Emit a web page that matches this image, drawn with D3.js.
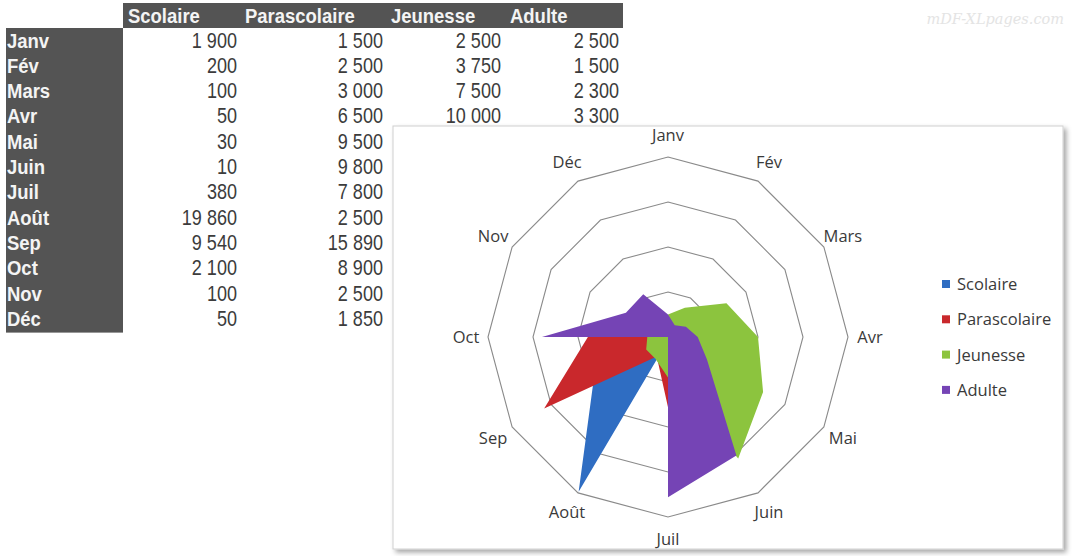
<!DOCTYPE html>
<html>
<head>
<meta charset="utf-8">
<script src="https://cdn.jsdelivr.net/npm/d3@7/dist/d3.min.js"></script>
<style>
    body { margin:0; background:#ffffff; }
    svg { display:block; }
    .head { font-family:"Liberation Sans", Arial, sans-serif; font-weight:bold; font-size:21px; fill:#f4f4f4; }
    .cell { font-family:"Liberation Sans", Arial, sans-serif; font-size:21.5px; fill:#3c3c3c; }
    .axisLabel { font-family:"Open Sans", sans-serif; font-size:16.5px; fill:#3a3a3a; }
    .legend { font-family:"Open Sans", sans-serif; font-size:16.5px; fill:#3a3a3a; }
</style>
</head>
<body>
<svg></svg>
<script>

var months = ["Janv","Fév","Mars","Avr","Mai","Juin","Juil","Août","Sep","Oct","Nov","Déc"];
var seriesNames = ["Scolaire","Parascolaire","Jeunesse","Adulte"];

var scolaire     = [1900, 200, 100, 50, 30, 10, 380, 19860, 9540, 2100, 100, 50];
var parascolaire = [1500, 2500, 3000, 6500, 9500, 9800, 7800, 2500, 15890, 8900, 2500, 1850];
//hidden behind the chart from Mai on: read from the radar
var jeunesse     = [2500, 3750, 7500, 10000, 12200, 15600, 4500, 2800, 2800, 2300, 1500, 2000];
var adulte       = [2500, 1500, 2300, 3300, 5000, 15200, 17800, 0, 0, 14000, 5400, 5500];

var ringValues = [5000, 10000, 15000, 20000];
var colors = ["#2f6dc2", "#c9282c", "#8cc43e", "#7544b5"];

var allSeries = [scolaire, parascolaire, jeunesse, adulte];

var fr = d3.formatLocale({decimal:",", thousands:" ", grouping:[3], currency:["","€"]});
var fmt = fr.format(",d");

//chart panel that lies over the table
var box = {x:393, y:126, width:670, height:423};

var drawTable = function(svg)
{
    var table = {left:6, colStart:123, right:623, top:3, rowH:25.3, firstRow:40};
    var colRight = [237, 383, 501, 619];
    var colLeft = [128, 245, 391, 510];
    var rowY = function(i) { return table.firstRow + table.rowH * i + 7.5; };

    var g = svg.append("g").classed("table", true);

    //header bar
    g.append("rect")
        .attr("x", table.colStart)
        .attr("y", table.top)
        .attr("width", table.right - table.colStart)
        .attr("height", 25)
        .attr("fill", "#545454");

    //row labels column
    g.append("rect")
        .attr("x", table.left)
        .attr("y", table.top + 25)
        .attr("width", table.colStart - table.left)
        .attr("height", table.rowH * months.length + 1)
        .attr("fill", "#545454");

    //narrow-looking text: squeeze horizontally
    g.selectAll(".headTxt")
        .data(seriesNames)
        .enter()
        .append("text")
        .classed("head", true)
        .attr("transform", function(d, i) { return "translate(" + colLeft[i] + "," + (table.top + 20) + ") scale(0.88,1)"; })
        .text(function(d) { return d; });

    g.selectAll(".rowTxt")
        .data(months)
        .enter()
        .append("text")
        .classed("head", true)
        .attr("transform", function(d, i) { return "translate(" + (table.left + 1) + "," + rowY(i) + ") scale(0.88,1)"; })
        .text(function(d) { return d; });

    allSeries.forEach(function(values, c)
    {
        //cells hidden behind the chart panel are not written
        var shown = values.map(function(v, i) { return {v:v, i:i}; })
            .filter(function(d) { return colRight[c] < box.x || rowY(d.i) - 12 < box.y; });

        g.selectAll(".col" + c)
            .data(shown)
            .enter()
            .append("text")
            .classed("cell", true)
            .attr("text-anchor", "end")
            .attr("transform", function(d) { return "translate(" + colRight[c] + "," + rowY(d.i) + ") scale(0.84,1)"; })
            .text(function(d) { return fmt(d.v); });
    });
}

var drawRadar = function(svg)
{
    var center = {x:668, y:337};
    var radius = 180;

    var defs = svg.append("defs");
    var shadow = defs.append("filter")
        .attr("id", "shadow")
        .attr("x", "-5%").attr("y", "-5%")
        .attr("width", "112%").attr("height", "115%");
    shadow.append("feDropShadow")
        .attr("dx", 3).attr("dy", 3)
        .attr("stdDeviation", 2.5)
        .attr("flood-color", "#000")
        .attr("flood-opacity", 0.35);

    svg.append("rect")
        .attr("x", box.x)
        .attr("y", box.y)
        .attr("width", box.width)
        .attr("height", box.height)
        .attr("fill", "#ffffff")
        .attr("stroke", "#d0d0d0")
        .attr("filter", "url(#shadow)");

    var rScale = d3.scaleLinear()
        .domain([0, 20000])
        .range([0, radius]);

    var angle = function(i) { return i * 2 * Math.PI / months.length; };

    var g = svg.append("g")
        .attr("transform", "translate(" + center.x + "," + center.y + ")");

    var radialLine = d3.lineRadial()
        .angle(function(d, i) { return angle(i); })
        .radius(function(d) { return rScale(d); })
        .curve(d3.curveLinearClosed);

    //rings
    g.selectAll(".ring")
        .data(ringValues)
        .enter()
        .append("path")
        .classed("ring", true)
        .attr("d", function(v) { return radialLine(months.map(function() { return v; })); })
        .attr("fill", "none")
        .attr("stroke", "#8a8a8a")
        .attr("stroke-width", 1.1);

    //series areas
    g.selectAll(".serie")
        .data(allSeries)
        .enter()
        .append("path")
        .classed("serie", true)
        .attr("d", radialLine)
        .attr("fill", function(d, i) { return colors[i]; })
        .attr("stroke", "none");

    //month labels
    var labelR = radius + 22;
    g.selectAll(".axisLabel")
        .data(months)
        .enter()
        .append("text")
        .classed("axisLabel", true)
        .attr("text-anchor", "middle")
        .attr("x", function(d, i) { return labelR * Math.sin(angle(i)); })
        .attr("y", function(d, i) { return -labelR * Math.cos(angle(i)) + 6; })
        .text(function(d) { return d; });

    //legend
    var legend = svg.append("g")
        .attr("transform", "translate(942,284)");

    var items = legend.selectAll("g")
        .data(seriesNames)
        .enter()
        .append("g")
        .attr("transform", function(d, i) { return "translate(0," + (i * 35.3) + ")"; });

    items.append("rect")
        .attr("x", 0)
        .attr("y", -4)
        .attr("width", 8)
        .attr("height", 8)
        .attr("fill", function(d, i) { return colors[i]; });

    items.append("text")
        .classed("legend", true)
        .attr("x", 15)
        .attr("y", 6)
        .text(function(d) { return d; });
}

var initPage = function()
{
    var screen = {width:1077, height:556};

    var svg = d3.select("svg")
        .attr("width", screen.width)
        .attr("height", screen.height);

    svg.append("rect")
        .attr("width", screen.width)
        .attr("height", screen.height)
        .attr("fill", "#ffffff");

    //watermark
    svg.append("text")
        .attr("x", 1064)
        .attr("y", 24)
        .attr("text-anchor", "end")
        .attr("font-family", "DejaVu Serif, serif")
        .attr("font-style", "italic")
        .attr("font-size", 14.5)
        .attr("fill", "#e4e4e4")
        .text("mDF-XLpages.com");

    drawTable(svg);
    drawRadar(svg);
}

initPage();

</script>
</body>
</html>
